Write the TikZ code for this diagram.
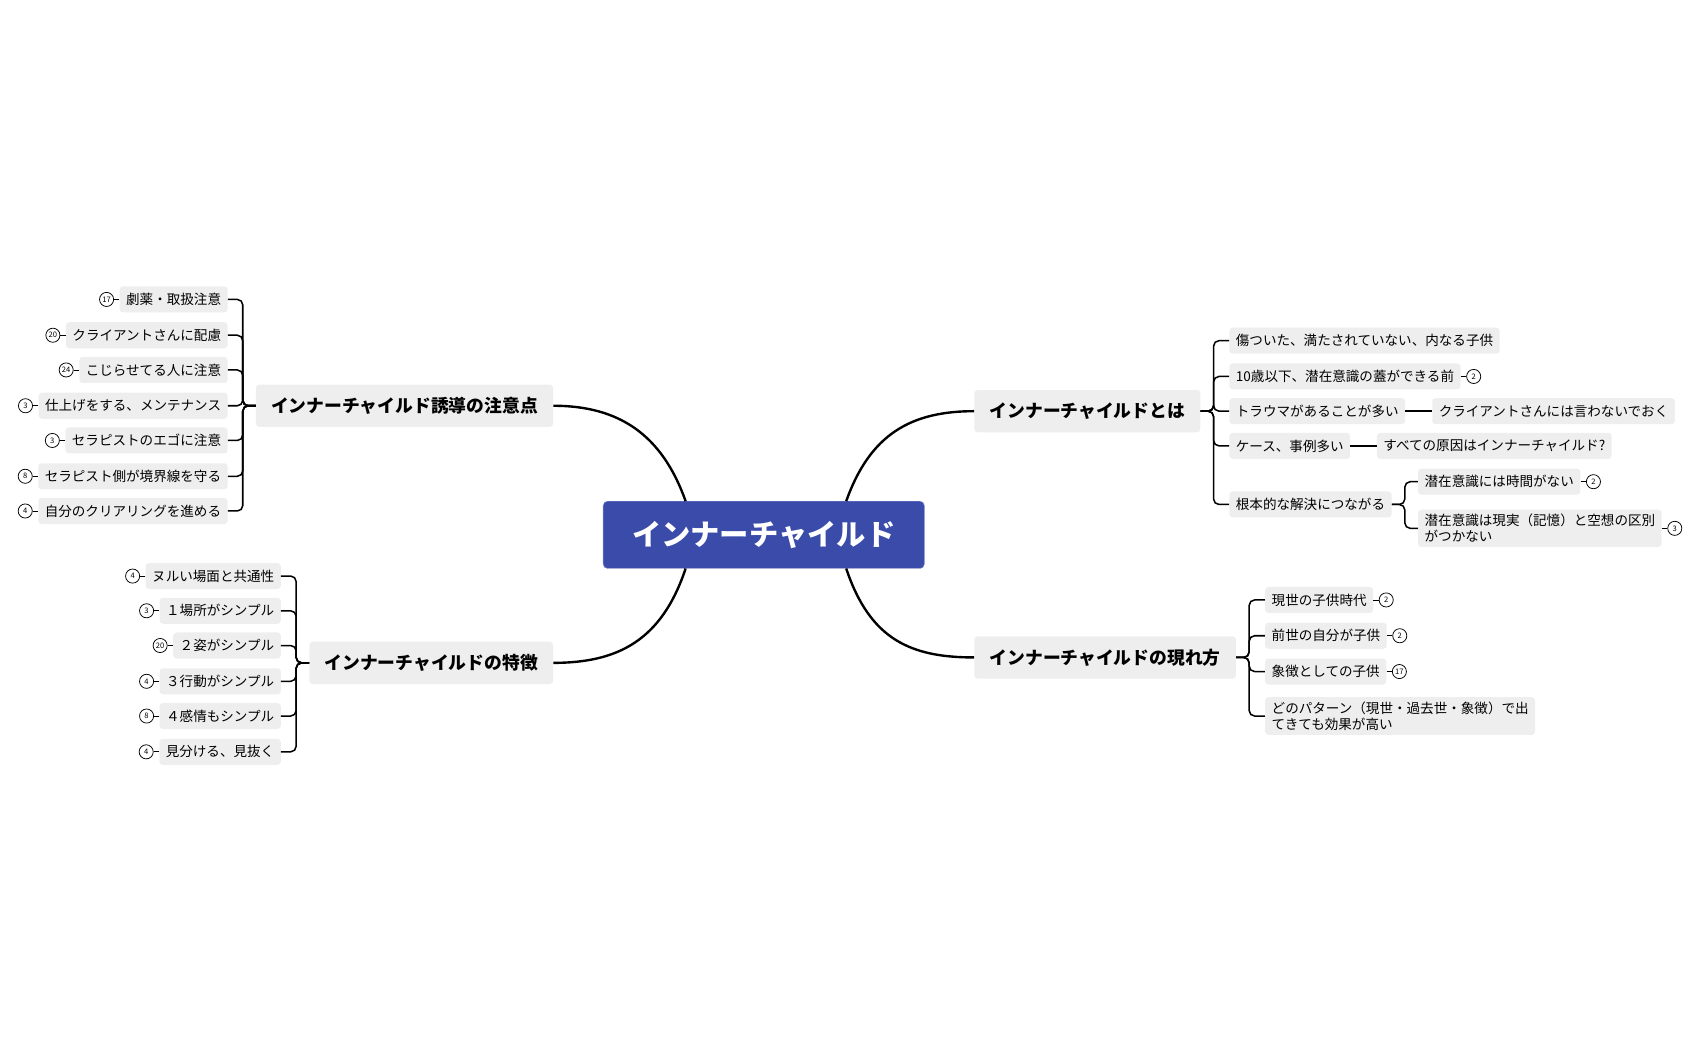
\documentclass[tikz,border=0pt]{standalone}
\usepackage{fontspec}
\setmainfont{Noto Sans CJK JP}
\usetikzlibrary{positioning}
\definecolor{mainblue}{HTML}{3A4BAA}
\definecolor{leafgray}{HTML}{EEEEEE}
\tikzset{
  leaf/.style={fill=leafgray, rounded corners=3pt, inner xsep=6pt, inner ysep=0pt, minimum height=24pt, font=\fontsize{12.5}{15}\selectfont},
  leaftwo/.style={leaf, align=left, inner ysep=4pt},
  branch/.style={fill=leafgray, rounded corners=3pt, inner xsep=14pt, minimum height=39pt, font=\fontsize{16.4}{19}\selectfont\bfseries},
  numc/.style={circle, draw, line width=0.7pt, minimum size=13pt, inner sep=0pt, font=\fontsize{7}{7}\selectfont},
  conn/.style={line width=1.4pt, rounded corners=5pt},
  curve/.style={line width=2.2pt},
}
\begin{document}
\begin{tikzpicture}[x=1pt,y=-1pt]
\useasboundingbox (0,0) rectangle (1567,970);
\node[fill=mainblue, draw=mainblue!60, rounded corners=4pt, minimum width=296pt, minimum height=62pt, text=white, font=\fontsize{27}{30}\selectfont\bfseries] (root) at (704,493) {インナーチャイルド};

\node[branch, anchor=west] (b1) at (898,379) {インナーチャイルドとは};
\node[branch, anchor=west] (b2) at (898,606) {インナーチャイルドの現れ方};
\node[branch, anchor=east] (b3) at (510,374) {インナーチャイルド誘導の注意点};
\node[branch, anchor=east] (b4) at (510,611) {インナーチャイルドの特徴};

\coordinate (rt1) at (780,462); \coordinate (rt2) at (632,462);
\coordinate (rb1) at (780,524); \coordinate (rb2) at (632,524);
\draw[curve] (rt1) .. controls (802,400) and (840,379) .. (b1.west);
\draw[curve] (rb1) .. controls (802,590) and (840,606) .. (b2.west);
\draw[curve] (rt2) .. controls (610,400) and (570,374) .. (b3.east);
\draw[curve] (rb2) .. controls (610,590) and (570,611) .. (b4.east);

\node[leaf, anchor=west] (a1) at (1133,314) {傷ついた、満たされていない、内なる子供};
\node[leaf, anchor=west] (a2) at (1133,347) {10歳以下、潜在意識の蓋ができる前};
\node[leaf, anchor=west] (a3) at (1133,379) {トラウマがあることが多い};
\node[leaf, anchor=west] (a4) at (1133,411) {ケース、事例多い};
\node[leaf, anchor=west] (a5) at (1133,465) {根本的な解決につながる};
\foreach \c in {a1,a2,a3,a4,a5} \draw[conn] (b1.east) -- ++(12,0) |- (\c.west);
\node[leaf, anchor=west] (a3x) at (1320,379) {クライアントさんには言わないでおく};
\node[leaf, anchor=west] (a4x) at (1269,411) {すべての原因はインナーチャイルド?};
\draw[conn] (a3.east) -- (a3x.west);
\draw[conn] (a4.east) -- (a4x.west);
\node[leaf, anchor=west] (a51) at (1307,444) {潜在意識には時間がない};
\node[leaftwo, anchor=west] (a52) at (1307,487) {潜在意識は現実（記憶）と空想の区別\\がつかない};
\foreach \c in {a51,a52} \draw[conn] (a5.east) -- ++(12,0) |- (\c.west);
\node[numc, right=5pt of a2] (na2) {2}; \draw[line width=0.7pt] (a2.east) -- (na2);
\node[numc, right=5pt of a51] (na51) {2}; \draw[line width=0.7pt] (a51.east) -- (na51);
\node[numc, right=5pt of a52] (na52) {3}; \draw[line width=0.7pt] (a52.east) -- (na52);

\node[leaf, anchor=west] (c1) at (1166,553) {現世の子供時代};
\node[leaf, anchor=west] (c2) at (1166,586) {前世の自分が子供};
\node[leaf, anchor=west] (c3) at (1166,619) {象徴としての子供};
\node[leaftwo, anchor=west] (c4) at (1166,660) {どのパターン（現世・過去世・象徴）で出\\てきても効果が高い};
\foreach \c in {c1,c2,c3,c4} \draw[conn] (b2.east) -- ++(12,0) |- (\c.west);
\node[numc, right=5pt of c1] (nc1) {2}; \draw[line width=0.7pt] (c1.east) -- (nc1);
\node[numc, right=5pt of c2] (nc2) {2}; \draw[line width=0.7pt] (c2.east) -- (nc2);
\node[numc, right=5pt of c3] (nc3) {17}; \draw[line width=0.7pt] (c3.east) -- (nc3);

\node[leaf, anchor=east] (d1) at (210,276) {劇薬・取扱注意};
\node[leaf, anchor=east] (d2) at (210,309) {クライアントさんに配慮};
\node[leaf, anchor=east] (d3) at (210,341) {こじらせてる人に注意};
\node[leaf, anchor=east] (d4) at (210,374) {仕上げをする、メンテナンス};
\node[leaf, anchor=east] (d5) at (210,406) {セラピストのエゴに注意};
\node[leaf, anchor=east] (d6) at (210,439) {セラピスト側が境界線を守る};
\node[leaf, anchor=east] (d7) at (210,471) {自分のクリアリングを進める};
\foreach \c in {d1,d2,d3,d4,d5,d6,d7} \draw[conn] (b3.west) -- ++(-12,0) |- (\c.east);
\foreach \c/\n in {d1/17,d2/20,d3/24,d4/3,d5/3,d6/8,d7/4} {
  \node[numc, left=5pt of \c] (n\c) {\n}; \draw[line width=0.7pt] (\c.west) -- (n\c);
}

\node[leaf, anchor=east] (e1) at (259,531) {ヌルい場面と共通性};
\node[leaf, anchor=east] (e2) at (259,563) {１場所がシンプル};
\node[leaf, anchor=east] (e3) at (259,595) {２姿がシンプル};
\node[leaf, anchor=east] (e4) at (259,628) {３行動がシンプル};
\node[leaf, anchor=east] (e5) at (259,660) {４感情もシンプル};
\node[leaf, anchor=east] (e6) at (259,693) {見分ける、見抜く};
\foreach \c in {e1,e2,e3,e4,e5,e6} \draw[conn] (b4.west) -- ++(-12,0) |- (\c.east);
\foreach \c/\n in {e1/4,e2/3,e3/20,e4/4,e5/8,e6/4} {
  \node[numc, left=5pt of \c] (n\c) {\n}; \draw[line width=0.7pt] (\c.west) -- (n\c);
}
\end{tikzpicture}
\end{document}
